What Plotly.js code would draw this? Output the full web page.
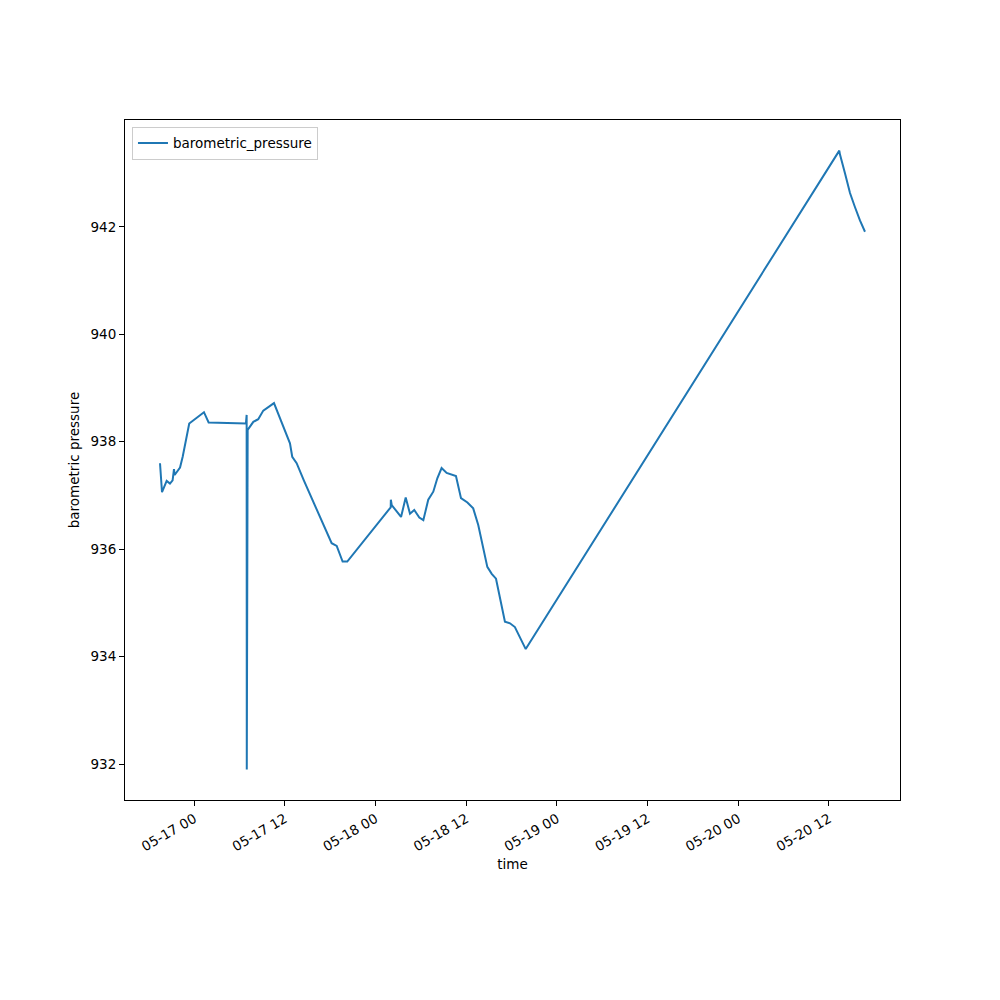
<!DOCTYPE html>
<html>
<head>
<meta charset="utf-8">
<script src="https://cdn.plot.ly/plotly-3.0.1.min.js"></script>
<style>html,body{margin:0;padding:0;background:#fff;}#chart{width:1000px;height:1000px;}</style>
</head>
<body>
<div id="chart"></div>
<script>
const times = [
  "2024-05-16 19:28","2024-05-16 19:44","2024-05-16 20:21","2024-05-16 20:47","2024-05-16 21:08",
  "2024-05-16 21:19","2024-05-16 21:24","2024-05-16 22:07","2024-05-16 22:28","2024-05-16 22:46",
  "2024-05-16 23:20","2024-05-17 01:17","2024-05-17 01:54","2024-05-17 06:50","2024-05-17 06:56",
  "2024-05-17 06:57","2024-05-17 07:04","2024-05-17 07:49","2024-05-17 08:28","2024-05-17 09:08",
  "2024-05-17 10:33","2024-05-17 12:40","2024-05-17 12:58","2024-05-17 13:33","2024-05-17 14:30",
  "2024-05-17 18:11","2024-05-17 18:51","2024-05-17 19:38","2024-05-17 20:15","2024-05-18 02:00",
  "2024-05-18 02:01","2024-05-18 02:08","2024-05-18 03:22","2024-05-18 03:59","2024-05-18 04:33",
  "2024-05-18 05:07","2024-05-18 05:47","2024-05-18 06:19","2024-05-18 06:58","2024-05-18 07:38",
  "2024-05-18 08:10","2024-05-18 08:44","2024-05-18 09:24","2024-05-18 10:38","2024-05-18 11:18",
  "2024-05-18 12:09","2024-05-18 12:55","2024-05-18 13:35","2024-05-18 14:15","2024-05-18 14:47",
  "2024-05-18 15:22","2024-05-18 15:56","2024-05-18 17:07","2024-05-18 17:47","2024-05-18 18:26",
  "2024-05-18 19:06","2024-05-18 19:52","2024-05-20 13:22","2024-05-20 13:27","2024-05-20 14:07",
  "2024-05-20 14:47","2024-05-20 15:26","2024-05-20 16:06","2024-05-20 16:46"
];
const pressure = [
  937.60,937.06,937.27,937.22,937.28,
  937.49,937.38,937.52,937.72,937.92,
  938.34,938.55,938.36,938.34,938.50,
  931.90,938.22,938.37,938.42,938.58,
  938.72,937.97,937.72,937.60,937.28,
  936.11,936.06,935.77,935.77,936.78,
  936.92,936.82,936.60,936.96,936.66,
  936.73,936.59,936.54,936.92,937.07,
  937.32,937.51,937.42,937.36,936.95,
  936.87,936.76,936.45,935.99,935.67,
  935.54,935.45,934.65,934.62,934.55,
  934.37,934.14,943.42,943.35,943.00,
  942.63,942.37,942.12,941.91
];
const seriesName = "barometric_pressure";
const xTicks = ["2024-05-17 00:00","2024-05-17 12:00","2024-05-18 00:00","2024-05-18 12:00",
                "2024-05-19 00:00","2024-05-19 12:00","2024-05-20 00:00","2024-05-20 12:00"];
const xTickLabels = ["05-17 00","05-17 12","05-18 00","05-18 12","05-19 00","05-19 12","05-20 00","05-20 12"];
const yTicks = [932,934,936,938,940,942];

const font = {family: "DejaVu Sans", size: 13.5, color: "#000"};
Plotly.newPlot("chart", [{
  x: times, y: pressure, type: "scatter", mode: "lines", name: seriesName,
  line: {color: "#1f77b4", width: 2}
}], {
  width: 1000, height: 1000,
  margin: {l: 125, r: 100, t: 120, b: 200},
  paper_bgcolor: "#fff", plot_bgcolor: "#fff",
  font: font,
  showlegend: true,
  legend: {x: 0.009, y: 0.99, xanchor: "left", yanchor: "top", bordercolor: "#cccccc", borderwidth: 1,
           bgcolor: "rgba(255,255,255,0.8)", font: font},
  xaxis: {
    type: "date", range: ["2024-05-16 14:50","2024-05-20 21:24"],
    tickvals: xTicks, ticktext: xTickLabels, tickangle: -30,
    ticks: "outside", ticklen: 5, tickcolor: "#000", showgrid: false, zeroline: false,
    showline: true, linecolor: "#000", linewidth: 1, mirror: true,
    title: {text: "time", font: font, standoff: 6}, tickfont: font
  },
  yaxis: {
    range: [931.33, 943.99], tickvals: yTicks, ticktext: yTicks.map(String),
    ticks: "outside", ticklen: 5, tickcolor: "#000", showgrid: false, zeroline: false,
    showline: true, linecolor: "#000", linewidth: 1, mirror: true,
    title: {text: "barometric pressure", font: font, standoff: 7}, tickfont: font
  }
}, {displayModeBar: false});
</script>
</body>
</html>
